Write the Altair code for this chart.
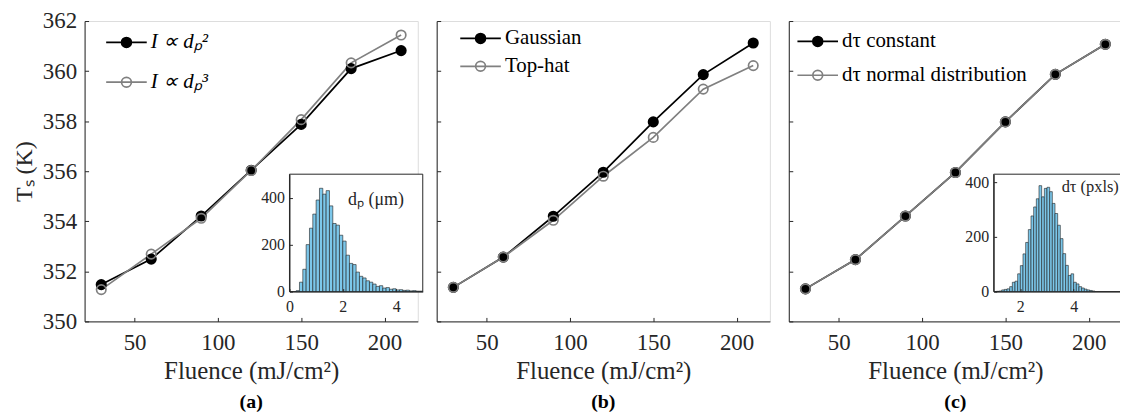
import altair as alt
import pandas as pd

FONT = "Liberation Serif"
INK = "#262626"
BLACK = "#000000"
GRAY = "#808080"
BAR_FILL = "#7cc7ea"
BAR_EDGE = "#1f1f1f"

# ---------------- data ----------------
FLUENCE = [30, 60, 90, 120, 150, 180, 210]

A_NAMES = ["I ∝ dₚ²", "I ∝ dₚ³"]
A_D2 = [351.47, 352.49, 354.21, 356.04, 357.87, 360.10, 360.82]
A_D3 = [351.27, 352.69, 354.12, 356.03, 358.06, 360.33, 361.44]

B_NAMES = ["Gaussian", "Top-hat"]
B_GAUSS = [351.36, 352.57, 354.20, 355.96, 357.97, 359.86, 361.12]
B_TOPHAT = [351.36, 352.57, 354.04, 355.80, 357.35, 359.28, 360.22]

C_NAMES = ["dτ constant", "dτ normal distribution"]
C_CONST = [351.30, 352.47, 354.21, 355.95, 357.97, 359.87, 361.07]
C_NORMAL = [351.30, 352.47, 354.21, 355.95, 357.97, 359.87, 361.07]

X_TICKS = [50, 100, 150, 200]
Y_TICKS = [350, 352, 354, 356, 358, 360, 362]

HIST_A_START = 0.25
HIST_A_WIDTH = 0.125
HIST_A_COUNTS = [4, 40, 95, 200, 270, 330, 390, 440, 415, 430, 365, 290, 283,
                 240, 215, 155, 120, 115, 83, 65, 58, 46, 40, 32, 22, 25, 15,
                 17, 10, 12, 7, 8, 5, 6, 3, 4, 2, 2]
HIST_A_XTICKS = [0, 2, 4]
HIST_A_YTICKS = [0, 200, 400]

HIST_C_START = 1.1
HIST_C_WIDTH = 0.1
HIST_C_COUNTS = [1, 2, 6, 8, 10, 18, 34, 38, 65, 95, 138, 180, 227, 277, 310,
                 340, 388, 347, 378, 382, 366, 323, 286, 243, 194, 139, 96, 59,
                 65, 34, 28, 18, 13, 9, 6, 4, 2]
HIST_C_XTICKS = [2, 4, 6]
HIST_C_YTICKS = [0, 200, 400]

# ---------------- layout ----------------
W, H = 335, 302
INSET_X = [206, 340]
INSET_Y = [272, 154]
NEG_TICK = {"expr": "-4"}
NEG_TICK_S = {"expr": "-3"}

SYMBOL = ("M-2.4,0H2.4M0.58,0A0.58,0.58 0 1,1 -0.58,0"
          "A0.58,0.58 0 1,1 0.58,0")


def line_df(names, s1, s2):
    rows = []
    for name, vals in zip(names, [s1, s2]):
        for f, t in zip(FLUENCE, vals):
            rows.append({"F": f, "T": t, "S": name})
    return pd.DataFrame(rows)


def hist_df(start, width, counts):
    return pd.DataFrame({
        "x0": [start + i * width for i in range(len(counts))],
        "x1": [start + (i + 1) * width for i in range(len(counts))],
        "n": counts,
        "z": [0] * len(counts),
    })


def main_layer(df, names, show_y, lx, ly, rowpad, italic=False):
    xax = alt.Axis(orient="bottom", values=X_TICKS, title="Fluence (mJ/cm²)",
                   tickSize=NEG_TICK, tickColor=INK, tickWidth=1,
                   domainColor=INK, domainWidth=1, grid=False,
                   labelFont=FONT, labelFontSize=23, labelColor=INK,
                   labelPadding=14, labelFlush=False,
                   titleFont=FONT, titleFontSize=25, titleColor=INK,
                   titleFontWeight="normal", titlePadding=4)
    if show_y:
        yax = alt.Axis(orient="left", values=Y_TICKS, title="Tₛ (K)",
                       tickSize=NEG_TICK, tickColor=INK, tickWidth=1,
                       domainColor=INK, domainWidth=1, grid=False,
                       labelFont=FONT, labelFontSize=23, labelColor=INK,
                       labelPadding=12, labelFlush=False,
                       titleFont=FONT, titleFontSize=24, titleColor=INK,
                       titleFontWeight="normal", titlePadding=6)
    else:
        yax = alt.Axis(orient="left", values=Y_TICKS, title=None, labels=False,
                       tickSize=NEG_TICK, tickColor=INK, tickWidth=1,
                       domainColor=INK, domainWidth=1, grid=False)
    x = alt.X("F:Q", scale=alt.Scale(domain=[20, 220], nice=False, zero=False), axis=xax)
    y = alt.Y("T:Q", scale=alt.Scale(domain=[350, 362], nice=False, zero=False), axis=yax)
    cscale = alt.Scale(domain=names, range=[BLACK, GRAY])
    fscale = alt.Scale(domain=names, range=[BLACK, "transparent"])
    leg = alt.Legend(orient="none", legendX=lx, legendY=ly, title=None,
                     symbolType=SYMBOL, symbolSize=289, symbolStrokeWidth=1.7,
                     labelFont=FONT, labelFontSize=21, labelColor=BLACK,
                     labelFontStyle="italic" if italic else "normal",
                     labelOffset=14, rowPadding=rowpad, padding=0,
                     labelLimit=400)
    lines = alt.Chart(df).mark_line(strokeWidth=1.7).encode(
        x=x, y=y, color=alt.Color("S:N", scale=cscale, legend=leg))
    points = alt.Chart(df).mark_point(shape="circle", size=90, strokeWidth=1.7,
                                      opacity=1).encode(
        x=x, y=y,
        color=alt.Color("S:N", scale=cscale, legend=leg),
        fill=alt.Fill("S:N", scale=fscale, legend=leg))
    return alt.layer(lines, points)


def inset_layer(hdf, xdom, ydom, xt, yt, label, lx, ly, fs):
    xs = alt.Scale(domain=xdom, range=INSET_X, nice=False, zero=False)
    ys = alt.Scale(domain=ydom, range=INSET_Y, nice=False, zero=False)
    xax = alt.Axis(orient="bottom", offset=-(H - INSET_Y[0]), values=xt,
                   title=None, tickSize=NEG_TICK_S, tickColor=INK,
                   domainColor=INK, grid=False, zindex=1,
                   labelFont=FONT, labelFontSize=16, labelColor=INK,
                   labelPadding=10, labelFlush=False)
    yax = alt.Axis(orient="left", offset=-INSET_X[0], values=yt,
                   title=None, tickSize=NEG_TICK_S, tickColor=INK,
                   domainColor=INK, grid=False, zindex=1,
                   labelFont=FONT, labelFontSize=16, labelColor=INK,
                   labelPadding=8, labelFlush=False)
    frame_df = pd.DataFrame({"x0": [xdom[0]], "x1": [xdom[1]],
                             "n": [ydom[0]], "y1": [ydom[1]]})
    frame = alt.Chart(frame_df).mark_rect(fill="white", stroke=INK,
                                          strokeWidth=1).encode(
        x=alt.X("x0:Q", scale=xs, axis=xax), x2="x1",
        y=alt.Y("n:Q", scale=ys, axis=yax), y2="y1")
    bars = alt.Chart(hdf).mark_rect(fill=BAR_FILL, stroke=BAR_EDGE,
                                    strokeWidth=0.6).encode(
        x=alt.X("x0:Q", scale=xs, axis=xax), x2="x1",
        y=alt.Y("n:Q", scale=ys, axis=yax), y2="z")
    txt_df = pd.DataFrame({"x0": [lx], "n": [ly], "label": [label]})
    txt = alt.Chart(txt_df).mark_text(font=FONT, fontSize=fs, color=INK,
                                      align="left", baseline="middle").encode(
        x=alt.X("x0:Q", scale=xs, axis=xax),
        y=alt.Y("n:Q", scale=ys, axis=yax),
        text="label:N")
    return alt.layer(frame, bars, txt)


def letter(s):
    return alt.TitleParams(s, orient="bottom", font=FONT, fontSize=20,
                           fontWeight="bold", color=BLACK, offset=9)


df_a = line_df(A_NAMES, A_D2, A_D3)
df_b = line_df(B_NAMES, B_GAUSS, B_TOPHAT)
df_c = line_df(C_NAMES, C_CONST, C_NORMAL)

panel_a = alt.layer(
    main_layer(df_a, A_NAMES, True, 31.6, 11, 18, italic=True),
    inset_layer(hist_df(HIST_A_START, HIST_A_WIDTH, HIST_A_COUNTS),
                [0, 5], [0, 500], HIST_A_XTICKS, HIST_A_YTICKS,
                "dₚ (μm)", 2.2, 390, 18),
).resolve_scale(x="independent", y="independent").properties(
    width=W, height=H, title=letter("(a)"))

panel_b = alt.layer(
    main_layer(df_b, B_NAMES, False, 33.6, 7, 6),
).properties(width=W, height=H, title=letter("(b)"))

panel_c = alt.layer(
    main_layer(df_c, C_NAMES, False, 18.6, 10, 12),
    inset_layer(hist_df(HIST_C_START, HIST_C_WIDTH, HIST_C_COUNTS),
                [1, 6], [0, 430], HIST_C_XTICKS, HIST_C_YTICKS,
                "dτ (pxls)", 3.55, 383, 16.5),
).resolve_scale(x="independent", y="independent").properties(
    width=W, height=H, title=letter("(c)"))

chart = alt.hconcat(panel_a, panel_b, panel_c, spacing=19, bounds="flush").resolve_scale(
    color="independent", fill="independent"
).properties(
    padding={"left": 4, "top": 0, "right": -12, "bottom": 1},
    background="white",
).configure_view(stroke=None).configure(font=FONT)

chart.save("out.html", embed_options={"renderer": "svg", "actions": False})
